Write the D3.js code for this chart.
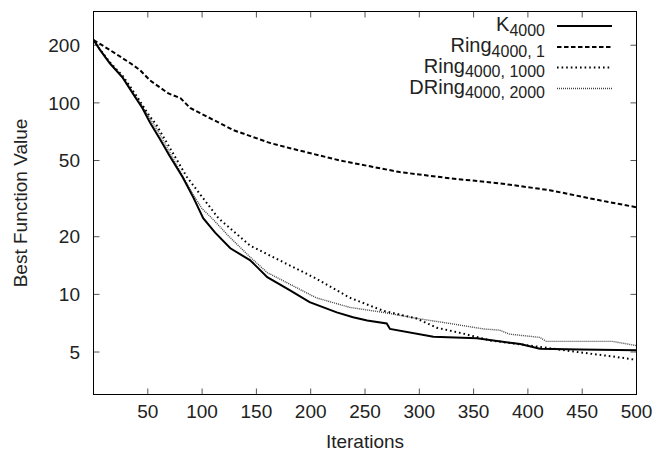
<!DOCTYPE html>
<html><head><meta charset="utf-8">
<script src="https://cdn.jsdelivr.net/npm/d3@7"></script>
<style>body{margin:0;background:#fff}svg text{font-family:"Liberation Sans",Arial,sans-serif;fill:#222}</style>
</head><body><svg id="c" width="667" height="458"></svg>
<script>
// ---- data ----
const xTicks = [50,100,150,200,250,300,350,400,450,500];
const yTicks = [5,10,20,50,100,200];

const kIter = [0,6,15,27,38,45,52,61,70,82,92,101,112,126,144,150,160,181,199,224,239,252,270,273,313,353,393,411,448,500];
const kVal  = [213,189,161,135,108,94,79,65,53,41,32,25,21,17.4,15.1,14,12.3,10.5,9.1,8.05,7.6,7.3,7.05,6.6,6.0,5.9,5.5,5.2,5.15,5.1];

const r1Iter = [0,15,34,43,52,69,80,89,129,163,181,227,282,328,374,420,466,500];
const r1Val  = [213,189,161,148,131,112,106,94,72,61.6,58,50,43.5,40.4,38,35,31,28.5];

const r1000Iter = [0,6,15,27,40,50,58,86,115,144,175,205,236,267,297,316,340,365,402,448,478,500];
const r1000Val  = [213,190,163,138,108,88,76.6,41,25,18,14.7,12.1,9.6,8.2,7.5,6.7,6.25,5.75,5.4,4.98,4.74,4.55];

const dIter = [0,6,15,27,45,60,77,92,100,109,125,144,160,205,236,267,297,328,359,374,383,411,417,478,500];
const dVal  = [213,190,162,136,96,70,47,33,28,25,20,15.7,13.0,9.6,8.55,8.05,7.5,7.05,6.6,6.5,6.2,5.96,5.68,5.68,5.4];

const seriesNames = ["K","Ring","Ring","DRing"];
const seriesSubs  = ["4000","4000, 1","4000, 1000","4000, 2000"];

// ---- layout ----
const L = 93.5, R = 636.5, T = 11.5, B = 394.5;
const svg = d3.select("#c");
const x = d3.scaleLinear().domain([0,500]).range([L,R]);
const y = d3.scaleLog().domain([3,300]).range([B,T]);

const fs = 19;
const tickLen = 6;
const ax = svg.append("g");
ax.selectAll("line.xb").data(xTicks).join("line")
  .attr("x1",d=>x(d)).attr("x2",d=>x(d)).attr("y1",B).attr("y2",B-tickLen).attr("stroke","#555");
ax.selectAll("line.xt").data(xTicks).join("line")
  .attr("x1",d=>x(d)).attr("x2",d=>x(d)).attr("y1",T).attr("y2",T+tickLen).attr("stroke","#555");
ax.selectAll("line.yl").data(yTicks).join("line")
  .attr("x1",L).attr("x2",L+tickLen).attr("y1",d=>y(d)).attr("y2",d=>y(d)).attr("stroke","#555");
ax.selectAll("line.yr").data(yTicks).join("line")
  .attr("x1",R).attr("x2",R-tickLen).attr("y1",d=>y(d)).attr("y2",d=>y(d)).attr("stroke","#555");
ax.selectAll("text.xl").data(xTicks).join("text")
  .attr("x",d=>x(d)).attr("y",418).attr("text-anchor","middle").attr("font-size",fs).text(d=>d);
ax.selectAll("text.yl").data(yTicks).join("text")
  .attr("x",80).attr("y",d=>y(d)).attr("dy","0.35em").attr("text-anchor","end").attr("font-size",fs).text(d=>d);

svg.append("text").attr("x",(L+R)/2).attr("y",448).attr("text-anchor","middle").attr("font-size",fs).text("Iterations");
svg.append("text").attr("transform",`translate(27,${(T+B)/2}) rotate(-90)`).attr("text-anchor","middle").attr("font-size",fs).text("Best Function Value");

// lines
const styles = [
  {w:2, dash:null, col:"#000"},
  {w:2, dash:"4.5,2.5", col:"#000"},
  {w:2, dash:"1.6,3", col:"#000"},
  {w:1.4, dash:"1,1", col:"#444"}
];
const data = [
  kIter.map((d,i)=>[d,kVal[i]]),
  r1Iter.map((d,i)=>[d,r1Val[i]]),
  r1000Iter.map((d,i)=>[d,r1000Val[i]]),
  dIter.map((d,i)=>[d,dVal[i]])
];
const line = d3.line().x(d=>x(d[0])).y(d=>y(d[1]));
svg.append("clipPath").attr("id","cp").append("rect").attr("x",L).attr("y",T).attr("width",R-L).attr("height",B-T);
const g = svg.append("g").attr("clip-path","url(#cp)");
[3,2,1,0].forEach(i=>{
  g.append("path").attr("d",line(data[i])).attr("fill","none")
   .attr("stroke",styles[i].col).attr("stroke-width",styles[i].w)
   .attr("stroke-dasharray",styles[i].dash);
});

// border
svg.append("rect").attr("x",L).attr("y",T).attr("width",R-L).attr("height",B-T).attr("fill","none").attr("stroke","#000").attr("stroke-width",1);

// legend
const lg = svg.append("g");
const rowY = [26,47,67.5,88.5];
seriesNames.forEach((n,i)=>{
  const t = lg.append("text").attr("x",545).attr("y",rowY[i]+5).attr("text-anchor","end").attr("font-size",20);
  t.append("tspan").text(n);
  t.append("tspan").attr("font-size",16).attr("dy",4.5).text(seriesSubs[i]);
  lg.append("line").attr("x1",557).attr("x2",612).attr("y1",rowY[i]).attr("y2",rowY[i])
    .attr("stroke",styles[i].col).attr("stroke-width",styles[i].w).attr("stroke-dasharray",styles[i].dash);
});
</script></body></html>
